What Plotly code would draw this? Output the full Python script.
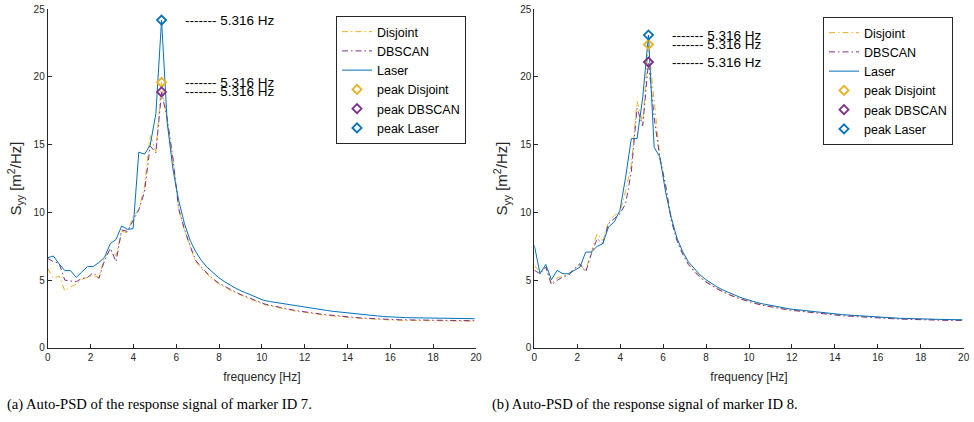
import plotly.graph_objects as go

# frequency bins [Hz]
freq = [0.000, 0.266, 0.532, 0.797, 1.063, 1.329, 1.595, 1.861, 2.126, 2.392,
        2.658, 2.924, 3.189, 3.455, 3.721, 3.987, 4.253, 4.518, 4.784, 5.050,
        5.316, 5.582, 5.847, 6.113, 6.379, 6.645, 6.911, 7.176, 7.442, 7.708,
        7.974, 8.239, 8.505, 8.771, 9.037, 9.303, 9.568, 9.834, 10.100, 10.366,
        10.632, 10.897, 11.163, 11.429, 11.695, 11.961, 12.226, 12.492, 12.758, 13.024,
        13.290, 13.555, 13.821, 14.087, 14.353, 14.619, 14.884, 15.150, 15.416, 15.682,
        15.948, 16.213, 16.479, 16.745, 17.011, 17.277, 17.542, 17.808, 18.074, 18.340,
        18.605, 18.871, 19.137, 19.403, 19.669, 19.934]

# (a) marker ID 7
disjoint_7 = [5.87, 5.13, 5.30, 4.20, 4.50, 4.70, 5.06, 5.20, 5.35, 5.20,
              6.70, 7.20, 6.80, 8.60, 8.50, 9.70, 10.20, 11.90, 15.70, 14.50,
              19.60, 16.70, 14.00, 10.20, 8.70, 7.47, 6.36, 5.87, 5.40, 5.00,
              4.75, 4.50, 4.27, 4.07, 3.88, 3.70, 3.53, 3.38, 3.20, 3.10,
              3.00, 2.91, 2.83, 2.75, 2.68, 2.61, 2.55, 2.50, 2.45, 2.40,
              2.35, 2.31, 2.27, 2.23, 2.20, 2.17, 2.14, 2.11, 2.09, 2.07,
              2.05, 2.04, 2.03, 2.02, 2.01, 2.00, 2.00, 1.99, 1.99, 1.98,
              1.98, 1.97, 1.98, 1.97, 1.97, 1.97]
dbscan_7 = [6.60, 6.36, 6.24, 5.00, 4.93, 4.88, 5.13, 5.20, 5.55, 5.13,
            6.48, 7.35, 6.36, 8.70, 8.60, 9.44, 10.20, 11.50, 14.90, 14.40,
            18.90, 16.90, 14.00, 10.30, 8.80, 7.55, 6.45, 5.95, 5.50, 5.10,
            4.80, 4.55, 4.32, 4.11, 3.92, 3.74, 3.57, 3.42, 3.25, 3.15,
            3.05, 2.96, 2.88, 2.80, 2.73, 2.66, 2.60, 2.54, 2.49, 2.44,
            2.39, 2.35, 2.31, 2.27, 2.24, 2.21, 2.18, 2.15, 2.13, 2.11,
            2.09, 2.08, 2.07, 2.06, 2.05, 2.04, 2.04, 2.03, 2.03, 2.02,
            2.02, 2.01, 2.01, 2.01, 2.00, 2.00]
laser_7 = [6.65, 6.78, 6.20, 5.70, 5.70, 5.20, 5.60, 6.00, 6.00, 6.30,
           6.70, 7.70, 8.00, 9.00, 8.75, 8.80, 14.45, 14.30, 14.95, 17.30,
           24.20, 16.60, 13.20, 10.90, 9.20, 7.95, 7.10, 6.45, 5.95, 5.55,
           5.20, 4.90, 4.62, 4.40, 4.20, 4.02, 3.86, 3.72, 3.50, 3.42,
           3.35, 3.28, 3.20, 3.13, 3.06, 2.99, 2.92, 2.86, 2.81, 2.76,
           2.70, 2.65, 2.60, 2.55, 2.51, 2.47, 2.43, 2.39, 2.35, 2.31,
           2.28, 2.26, 2.24, 2.23, 2.22, 2.21, 2.20, 2.19, 2.18, 2.17,
           2.17, 2.16, 2.16, 2.15, 2.15, 2.15]

# (b) marker ID 8
disjoint_8 = [6.09, 5.60, 5.96, 4.73, 5.18, 5.28, 5.47, 5.84, 6.09, 5.72,
              7.07, 8.43, 7.93, 9.29, 9.78, 10.00, 11.60, 13.50, 18.20, 16.60,
              22.40, 18.30, 14.10, 12.10, 9.50, 8.00, 7.00, 6.20, 5.70, 5.28,
              4.93, 4.65, 4.40, 4.18, 3.98, 3.81, 3.66, 3.52, 3.39, 3.28,
              3.18, 3.09, 3.01, 2.94, 2.87, 2.81, 2.76, 2.71, 2.66, 2.61,
              2.57, 2.53, 2.49, 2.45, 2.41, 2.38, 2.35, 2.32, 2.29, 2.26,
              2.23, 2.21, 2.19, 2.17, 2.16, 2.15, 2.13, 2.12, 2.11, 2.10,
              2.09, 2.08, 2.07, 2.07, 2.06, 2.06]
dbscan_8 = [5.72, 5.47, 5.96, 4.66, 4.98, 5.23, 5.35, 5.84, 6.21, 5.60,
            6.95, 8.06, 7.69, 9.17, 9.54, 9.90, 10.65, 13.00, 17.70, 16.40,
            21.10, 17.00, 14.00, 12.00, 9.40, 7.90, 6.90, 6.15, 5.65, 5.22,
            4.88, 4.61, 4.36, 4.14, 3.94, 3.77, 3.62, 3.48, 3.35, 3.24,
            3.14, 3.05, 2.97, 2.90, 2.83, 2.77, 2.72, 2.67, 2.62, 2.57,
            2.53, 2.49, 2.45, 2.41, 2.37, 2.34, 2.31, 2.28, 2.25, 2.22,
            2.19, 2.17, 2.15, 2.13, 2.12, 2.11, 2.09, 2.08, 2.07, 2.06,
            2.05, 2.04, 2.03, 2.03, 2.02, 2.02]
laser_8 = [7.57, 5.47, 6.16, 5.03, 5.72, 5.47, 5.47, 5.72, 5.96, 7.07,
           7.07, 7.49, 7.69, 8.92, 9.29, 10.15, 12.60, 15.45, 15.45, 18.50,
           23.10, 14.80, 14.10, 11.50, 9.60, 8.10, 7.10, 6.35, 5.85, 5.40,
           5.05, 4.75, 4.50, 4.28, 4.08, 3.90, 3.74, 3.60, 3.46, 3.35,
           3.25, 3.16, 3.08, 3.00, 2.93, 2.86, 2.81, 2.76, 2.71, 2.66,
           2.61, 2.57, 2.53, 2.49, 2.45, 2.42, 2.39, 2.36, 2.31, 2.28,
           2.25, 2.23, 2.21, 2.19, 2.18, 2.17, 2.15, 2.14, 2.13, 2.12,
           2.11, 2.10, 2.09, 2.08, 2.08, 2.07]

c_dis = "#EDB120"
c_db = "#7E2F8E"
c_las = "#0072BD"
axcol = "#262626"
sans = "Liberation Sans, Arial, sans-serif"

fig = go.Figure()

panels = [
    ("x", "y", "legend", disjoint_7, dbscan_7, laser_7),
    ("x2", "y2", "legend2", disjoint_8, dbscan_8, laser_8),
]

for xa, ya, lg, dis, db, las in panels:
    fig.add_trace(go.Scatter(x=freq, y=dis, mode="lines", name="Disjoint", xaxis=xa, yaxis=ya, legend=lg,
                             line=dict(color=c_dis, width=1, dash="6px,3px,1.5px,3px")))
    fig.add_trace(go.Scatter(x=freq, y=db, mode="lines", name="DBSCAN", xaxis=xa, yaxis=ya, legend=lg,
                             line=dict(color=c_db, width=1, dash="6px,3px,1.5px,3px")))
    fig.add_trace(go.Scatter(x=freq, y=las, mode="lines", name="Laser", xaxis=xa, yaxis=ya, legend=lg,
                             line=dict(color=c_las, width=1)))
    # peak markers + label
    for nm, ser, col in [("peak Disjoint", dis, c_dis), ("peak DBSCAN", db, c_db), ("peak Laser", las, c_las)]:
        k = ser.index(max(ser))
        fig.add_trace(go.Scatter(x=[freq[k]], y=[ser[k]], mode="markers", name=nm, xaxis=xa, yaxis=ya, legend=lg,
                                 marker=dict(symbol="diamond-open", size=7, color=col, line=dict(width=1.8, color=col))))
        fig.add_annotation(x=freq[k] + 1, y=ser[k], xref=xa, yref=ya, text="------- %.3f Hz" % freq[k],
                           showarrow=False, xanchor="left", yanchor="middle",
                           font=dict(family=sans, size=13.5, color="black"))

axis_common = dict(range=[0, 20], dtick=2, showline=True, linecolor=axcol, linewidth=1, automargin=False,
                   ticks="inside", ticklen=4, tickcolor=axcol, showgrid=False, zeroline=False,
                   tickfont=dict(family=sans, size=10, color=axcol),
                   title=dict(text="frequency [Hz]", font=dict(family=sans, size=12, color=axcol), standoff=10))
yaxis_common = dict(range=[0, 25], dtick=5, showline=True, linecolor=axcol, linewidth=1, automargin=False,
                    ticks="inside", ticklen=4, tickcolor=axcol, showgrid=False, zeroline=False,
                    tickfont=dict(family=sans, size=10, color=axcol),
                    title=dict(text="S<sub>yy</sub> [m<sup>2</sup>/Hz]", font=dict(family=sans, size=15, color=axcol),
                               standoff=8))

legend_common = dict(bgcolor="white", bordercolor=axcol, borderwidth=1, xanchor="left", yanchor="top",
                     font=dict(family=sans, size=12.5, color="black"), tracegroupgap=0)

fig.update_layout(
    width=974, height=422,
    margin=dict(l=0, r=0, t=0, b=0),
    plot_bgcolor="white", paper_bgcolor="white",
    xaxis=dict(domain=[0.049, 0.4887], anchor="y", **axis_common),
    yaxis=dict(domain=[0.1758, 0.978], anchor="x", **yaxis_common),
    xaxis2=dict(domain=[0.5486, 0.9894], anchor="y2", **axis_common),
    yaxis2=dict(domain=[0.1758, 0.978], anchor="x2", **yaxis_common),
    legend=dict(x=336 / 974, y=1 - 16 / 422, **legend_common),
    legend2=dict(x=823 / 974, y=1 - 17 / 422, **legend_common),
)

fig.add_annotation(x=5 / 974, y=1 - 404 / 422, xref="paper", yref="paper", xanchor="left", yanchor="middle",
                   showarrow=False, text="(a) Auto-PSD of the response signal of marker ID 7.",
                   font=dict(family="Liberation Serif, serif", size=14.6, color="black"))
fig.add_annotation(x=490 / 974, y=1 - 404 / 422, xref="paper", yref="paper", xanchor="left", yanchor="middle",
                   showarrow=False, text="(b) Auto-PSD of the response signal of marker ID 8.",
                   font=dict(family="Liberation Serif, serif", size=14.6, color="black"))

# page body has a default 8px margin; drop it so the figure sits at the window's corner
fig.write_html("out.html", config={"displayModeBar": False},
               post_script="document.body.style.margin='0';")
